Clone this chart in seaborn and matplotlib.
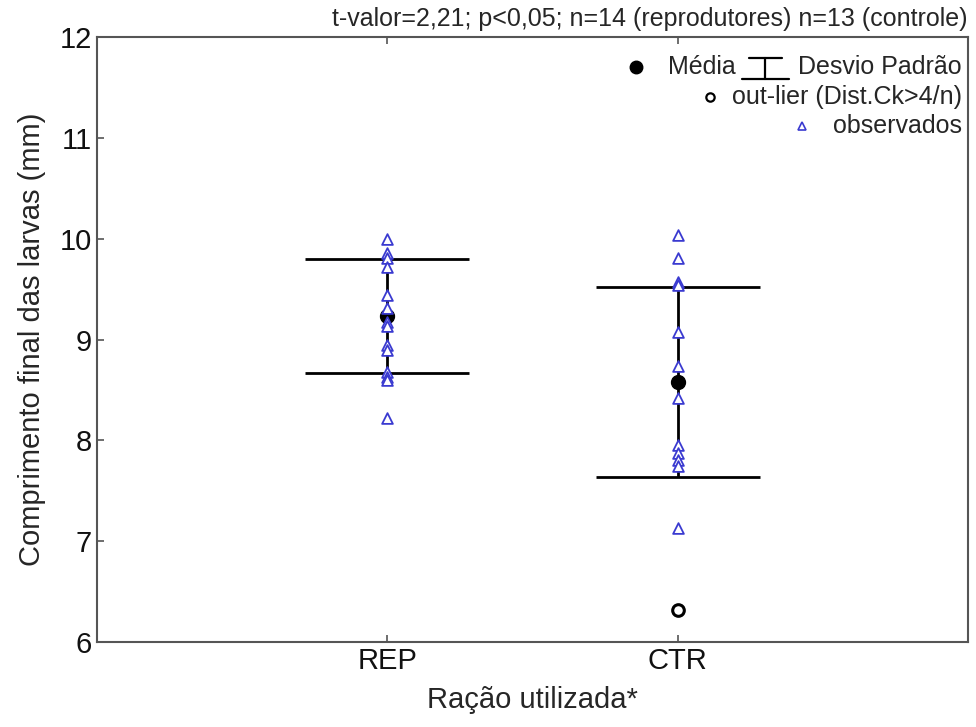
import numpy as np
import pandas as pd
import matplotlib
matplotlib.use("Agg")
import matplotlib.pyplot as plt
import seaborn as sns

# data
grupos = ["REP", "CTR"]
obs_rep = [10.00, 9.86, 9.81, 9.72, 9.44, 9.31, 9.17, 9.13, 8.95, 8.90, 8.68, 8.63, 8.60, 8.22]
obs_ctr = [10.04, 9.81, 9.57, 9.54, 9.07, 8.74, 8.42, 7.95, 7.87, 7.80, 7.75, 7.13]
media = [9.23, 8.58]
desvio = [0.565, 0.945]
outlier_grupo = ["CTR"]
outlier_valor = [6.32]
titulo = "t-valor=2,21; p<0,05; n=14 (reprodutores) n=13 (controle)"

sns.set_style("white")
plt.rcParams["font.family"] = ["Liberation Sans", "DejaVu Sans"]

df = pd.DataFrame({
    "grupo": ["REP"] * len(obs_rep) + ["CTR"] * len(obs_ctr),
    "valor": obs_rep + obs_ctr,
})

fig = plt.figure(figsize=(9.76, 7.27), dpi=100)
ax = fig.add_axes([0.0994, 0.117, 0.8924, 0.832])

# mean +- SD with wide caps
ax.errorbar(grupos, media, yerr=desvio, fmt="o", color="black", ecolor="black",
            markersize=10, elinewidth=2, capsize=59, capthick=2, zorder=3)

sns.scatterplot(data=df, x="grupo", y="valor", marker="^", s=60,
                facecolor="white", edgecolor="#3a3ad0", linewidth=1.3, ax=ax, zorder=4)

ax.scatter(outlier_grupo, outlier_valor, marker="o", s=70, facecolor="white",
           edgecolor="black", linewidth=2.2, zorder=4)

ax.set_xlim(-1, 2)
ax.set_ylim(6, 12)
ax.set_yticks([6, 7, 8, 9, 10, 11, 12])
ax.tick_params(axis="both", direction="in", labelsize=21, colors="#555555",
               labelcolor="#111111", length=5, width=1.2, top=True, bottom=True, left=True)
for s in ax.spines.values():
    s.set_color("#555555")
    s.set_linewidth(1.5)
ax.set_xlabel("Ração utilizada*", fontsize=21, labelpad=8)
ax.set_ylabel("Comprimento final das larvas (mm)", fontsize=21, labelpad=10)
ax.text(1.0, 1.01, titulo, transform=ax.transAxes, ha="right", va="bottom", fontsize=18)

# legend drawn by hand (two entries share the first line)
fs = 18
ax.plot([0.619], [0.950], "o", color="black", markersize=9, transform=ax.transAxes)
ax.text(0.733, 0.950, "Média", transform=ax.transAxes, ha="right", va="center", fontsize=fs)
ax.plot([0.740, 0.795], [0.931, 0.931], color="black", lw=1.6, transform=ax.transAxes)
ax.plot([0.748, 0.787], [0.966, 0.966], color="black", lw=1.6, transform=ax.transAxes)
ax.plot([0.7675, 0.7675], [0.931, 0.966], color="black", lw=1.6, transform=ax.transAxes)
ax.text(0.993, 0.950, "Desvio Padrão", transform=ax.transAxes, ha="right", va="center", fontsize=fs)
ax.plot([0.704], [0.901], "o", markerfacecolor="white", markeredgecolor="black",
        markersize=6, markeredgewidth=1.6, transform=ax.transAxes)
ax.text(0.993, 0.901, "out-lier (Dist.Ck>4/n)", transform=ax.transAxes, ha="right", va="center", fontsize=fs)
ax.plot([0.809], [0.853], "^", markerfacecolor="white", markeredgecolor="#3a3ad0",
        markersize=6, markeredgewidth=1.2, transform=ax.transAxes)
ax.text(0.993, 0.853, "observados", transform=ax.transAxes, ha="right", va="center", fontsize=fs)

fig.savefig("out.png", dpi=100)
